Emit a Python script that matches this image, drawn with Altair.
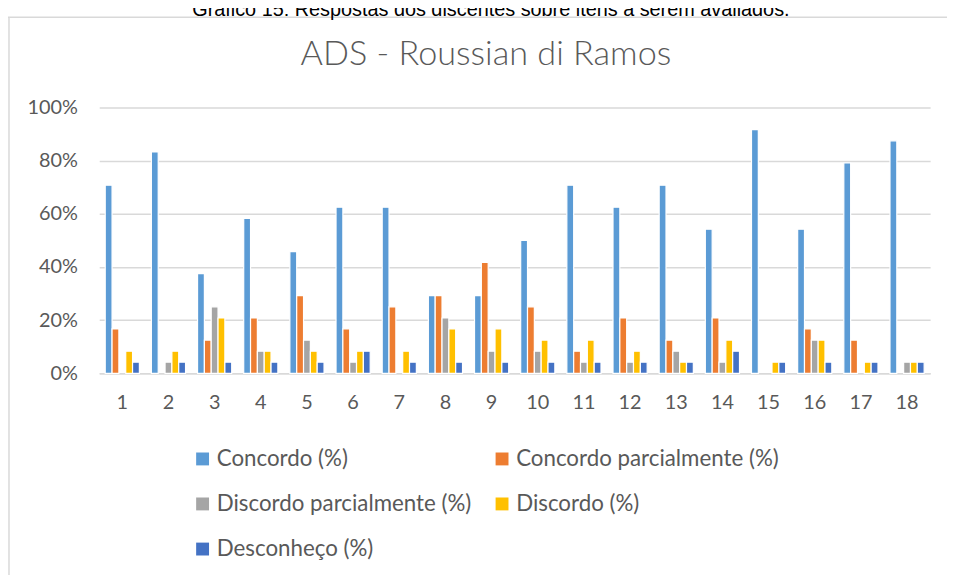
import altair as alt
import pandas as pd

items = [str(i) for i in range(1, 19)]
series = ["Concordo (%)", "Concordo parcialmente (%)", "Discordo parcialmente (%)",
          "Discordo (%)", "Desconheço (%)"]
concordo = [70.8, 83.3, 37.5, 58.3, 45.8, 62.5, 62.5, 29.2, 29.2, 50.0, 70.8, 62.5, 70.8, 54.2, 91.7, 54.2, 79.2, 87.5]
concordo_parc = [16.7, 0, 12.5, 20.8, 29.2, 16.7, 25.0, 29.2, 41.7, 25.0, 8.3, 20.8, 12.5, 20.8, 0, 16.7, 12.5, 0]
discordo_parc = [0, 4.2, 25.0, 8.3, 12.5, 4.2, 0, 20.8, 8.3, 8.3, 4.2, 4.2, 8.3, 4.2, 0, 12.5, 0, 4.2]
discordo = [8.3, 8.3, 20.8, 8.3, 8.3, 8.3, 8.3, 16.7, 16.7, 12.5, 12.5, 8.3, 4.2, 12.5, 4.2, 12.5, 4.2, 4.2]
desconheco = [4.2, 4.2, 4.2, 4.2, 4.2, 8.3, 4.2, 4.2, 4.2, 4.2, 4.2, 4.2, 4.2, 8.3, 4.2, 4.2, 4.2, 4.2]
colors = ["#5B9BD5", "#ED7D31", "#A5A5A5", "#FFC000", "#4472C4"]
y_ticks = [0, 20, 40, 60, 80, 100]

title_text = "ADS - Roussian di Ramos"
caption_text = "Gráfico 15: Respostas dos discentes sobre itens a serem avaliados."

rows = []
for s, vals in zip(series, [concordo, concordo_parc, discordo_parc, discordo, desconheco]):
    for it, v in zip(items, vals):
        rows.append({"item": it, "series": s, "value": v})
df = pd.DataFrame(rows)

FONT = "Lato"
GRAY = "#595959"

bars = alt.Chart(df).transform_filter("datum.value > 0").mark_bar(
    stroke="white", strokeWidth=1.2
).encode(
    x=alt.X("item:N", sort=items,
            scale=alt.Scale(paddingInner=0.26, paddingOuter=0.13),
            axis=alt.Axis(title=None, labelAngle=0, ticks=False, domain=True,
                          domainColor="#D9D9D9", domainWidth=1.5, grid=False,
                          labelFont=FONT, labelFontSize=20, labelColor=GRAY,
                          labelPadding=20)),
    xOffset=alt.XOffset("series:N", sort=series,
                        scale=alt.Scale(domain=series, paddingInner=0, paddingOuter=0)),
    y=alt.Y("value:Q", scale=alt.Scale(domain=[0, 100]),
            axis=alt.Axis(title=None, values=y_ticks, labelExpr="datum.value + '%'",
                          ticks=False, domain=False, grid=True, gridColor="#D9D9D9",
                          gridWidth=1.5, labelFont=FONT, labelFontSize=20,
                          labelColor=GRAY, labelPadding=22)),
    color=alt.Color("series:N", sort=series,
                    scale=alt.Scale(domain=series, range=colors),
                    legend=alt.Legend(title=None, orient="none", legendX=93, legendY=343,
                                      direction="horizontal", padding=0,
                                      columns=2, symbolType="square", symbolSize=169,
                                      symbolStrokeWidth=0, labelFont=FONT,
                                      labelFontSize=22.5, labelColor=GRAY,
                                      labelOffset=3, rowPadding=22.5, columnPadding=19,
                                      labelLimit=400)),
)

title_df = pd.DataFrame({"t": [title_text]})
title_mark = alt.Chart(title_df).mark_text(
    font=FONT, fontSize=34.5, fontWeight=300, color=GRAY, baseline="middle", align="center"
).encode(text="t:N", x=alt.value(390), y=alt.value(-53))

cap_df = pd.DataFrame({"t": [caption_text]})
caption = alt.Chart(cap_df).mark_text(
    font="Liberation Sans", fontSize=20, color="black", baseline="alphabetic", align="center"
).encode(text="t:N", x=alt.value(395), y=alt.value(-92))

frame_top = alt.Chart(title_df).mark_rule(color="#D9D9D9", strokeWidth=1.5).encode(
    x=alt.value(-92), x2=alt.value(860), y=alt.value(-91))
frame_left = alt.Chart(title_df).mark_rule(color="#D9D9D9", strokeWidth=1.5).encode(
    x=alt.value(-91), y=alt.value(-91), y2=alt.value(480))

chart = alt.layer(frame_top, frame_left, caption, title_mark, bars).properties(
    width=838, height=268,
    padding={"left": 92, "top": 98, "right": 17, "bottom": 201},
    autosize=alt.AutoSizeParams(type="none"),
    background="white",
).configure_view(stroke=None)

chart.save("out.html", embed_options={"renderer": "svg", "actions": False})
